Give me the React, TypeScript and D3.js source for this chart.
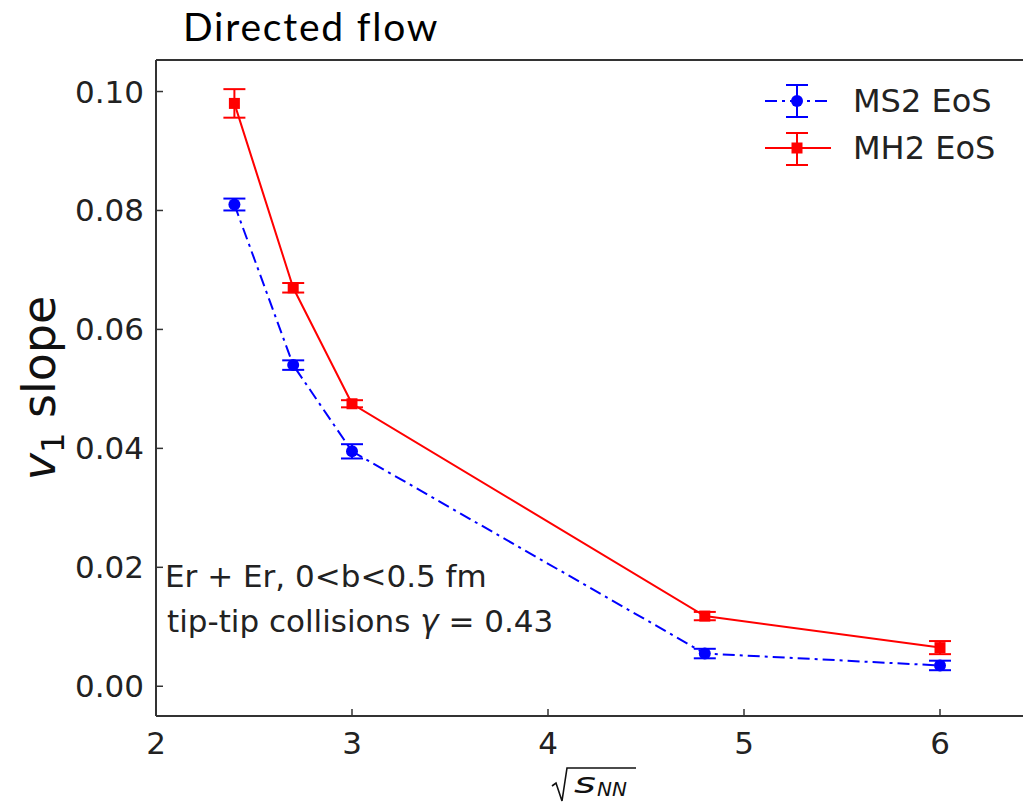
import React from "react";
import * as d3 from "d3";

const xValues = [2.4, 2.7, 3.0, 4.8, 6.0];
const ms2Values = [0.081, 0.054, 0.0395, 0.0055, 0.0035];
const ms2Errors = [0.001, 0.0008, 0.0012, 0.0008, 0.0008];
const mh2Values = [0.098, 0.067, 0.0475, 0.0118, 0.0065];
const mh2Errors = [0.0024, 0.0008, 0.0006, 0.0007, 0.0011];
const xTicks = [2, 3, 4, 5, 6];
const yTicks = [0, 0.02, 0.04, 0.06, 0.08, 0.1];

const W = 1023;
const H = 807;
const left = 156;
const right = 1038;
const top = 60;
const bottom = 716;

const AX = "DejaVu Sans, sans-serif";

export default function App() {
  const x = d3.scaleLinear().domain([2, 6.5]).range([left, right]);
  const y = d3.scaleLinear().domain([-0.005, 0.1053]).range([bottom, top]);
  const line = d3
    .line<[number, number]>()
    .x((d) => x(d[0]))
    .y((d) => y(d[1]));
  const ms2 = xValues.map((v, i) => [v, ms2Values[i]] as [number, number]);
  const mh2 = xValues.map((v, i) => [v, mh2Values[i]] as [number, number]);
  const cap = 11;
  const blue = "#0000ff";
  const red = "#ff0000";
  const dash = "12,5,3,5";

  const errBars = (vals: number[], errs: number[], color: string) =>
    xValues.map((xv, i) => (
      <g key={i} stroke={color} strokeWidth={2}>
        <line x1={x(xv)} x2={x(xv)} y1={y(vals[i] - errs[i])} y2={y(vals[i] + errs[i])} />
        <line x1={x(xv) - cap} x2={x(xv) + cap} y1={y(vals[i] - errs[i])} y2={y(vals[i] - errs[i])} />
        <line x1={x(xv) - cap} x2={x(xv) + cap} y1={y(vals[i] + errs[i])} y2={y(vals[i] + errs[i])} />
      </g>
    ));

  return (
    <svg width={W} height={H} style={{ position: "absolute", left: 0, top: 0, background: "#fff" }}>
      <rect x={0} y={0} width={W} height={H} fill="#fff" />
      <text x={183} y={41} fontFamily="Lato, sans-serif" fontSize={39} letterSpacing={1.8} fill="#000">
        Directed flow
      </text>

      {/* data */}
      <path d={line(mh2) || ""} fill="none" stroke={red} strokeWidth={2} />
      <path d={line(ms2) || ""} fill="none" stroke={blue} strokeWidth={2} strokeDasharray={dash} />
      {errBars(mh2Values, mh2Errors, red)}
      {errBars(ms2Values, ms2Errors, blue)}
      {mh2.map((d, i) => (
        <rect key={i} x={x(d[0]) - 5.5} y={y(d[1]) - 5.5} width={11} height={11} fill={red} />
      ))}
      {ms2.map((d, i) => (
        <circle key={i} cx={x(d[0])} cy={y(d[1])} r={6} fill={blue} />
      ))}

      {/* axes */}
      <g stroke="#333" strokeWidth={2} fill="none">
        <line x1={left} x2={W + 20} y1={top} y2={top} />
        <line x1={left} x2={W + 20} y1={bottom} y2={bottom} />
        <line x1={left} x2={left} y1={top} y2={bottom} />
        <line x1={right} x2={right} y1={top} y2={bottom} />
      </g>
      {xTicks.map((t) => (
        <g key={t}>
          <line x1={x(t)} x2={x(t)} y1={bottom} y2={bottom - 7} stroke="#333" strokeWidth={1.5} />
          <text x={x(t)} y={bottom + 38} textAnchor="middle" fontFamily={AX} fontSize={31} fill="#222">
            {t}
          </text>
        </g>
      ))}
      {yTicks.map((t) => (
        <g key={t}>
          <line x1={left} x2={left + 7} y1={y(t)} y2={y(t)} stroke="#333" strokeWidth={1.5} />
          <text x={left - 12} y={y(t) + 11} textAnchor="end" fontFamily={AX} fontSize={31} fill="#222">
            {d3.format(".2f")(t)}
          </text>
        </g>
      ))}

      {/* y label */}
      <text
        transform={`translate(55, 388) rotate(-90)`}
        textAnchor="middle"
        fontFamily={AX}
        fontSize={46}
        fill="#111"
      >
        <tspan fontStyle="italic">v</tspan>
        <tspan fontSize={32} dy={9}>1</tspan>
        <tspan dy={-9}> slope</tspan>
      </text>

      {/* x label */}
      <g fontFamily={AX} fill="#111">
        <path d="M552,786 L556,783 L562,801 L567,768 L636,768" fill="none" stroke="#111" strokeWidth={1.6} />
        <text transform="translate(574,793) scale(1.45,1)" fontSize={29} fontStyle="italic">s</text>
        <text x={597} y={796} fontSize={20} fontStyle="italic">NN</text>
      </g>

      {/* annotation */}
      <text x={165} y={587} fontFamily={AX} fontSize={31} fill="#222">
        Er + Er, 0&lt;b&lt;0.5 fm
      </text>
      <text x={167} y={632} fontFamily={AX} fontSize={31} fill="#222">
        tip-tip collisions <tspan fontStyle="italic">γ</tspan> = 0.43
      </text>

      {/* legend */}
      <g>
        <line x1={765} x2={830} y1={101} y2={101} stroke={blue} strokeWidth={2} strokeDasharray="12,5,3,5" />
        <line x1={797} x2={797} y1={85} y2={117} stroke={blue} strokeWidth={2} />
        <line x1={786} x2={808} y1={85} y2={85} stroke={blue} strokeWidth={2} />
        <line x1={786} x2={808} y1={117} y2={117} stroke={blue} strokeWidth={2} />
        <circle cx={797} cy={101} r={6} fill={blue} />
        <text x={853} y={112} fontFamily={AX} fontSize={32} fill="#222">MS2 EoS</text>

        <line x1={765} x2={831} y1={148} y2={148} stroke={red} strokeWidth={2} />
        <line x1={797} x2={797} y1={133} y2={165} stroke={red} strokeWidth={2} />
        <line x1={786} x2={808} y1={133} y2={133} stroke={red} strokeWidth={2} />
        <line x1={786} x2={808} y1={165} y2={165} stroke={red} strokeWidth={2} />
        <rect x={791.5} y={142.5} width={11} height={11} fill={red} />
        <text x={853} y={159} fontFamily={AX} fontSize={32} fill="#222">MH2 EoS</text>
      </g>
    </svg>
  );
}
